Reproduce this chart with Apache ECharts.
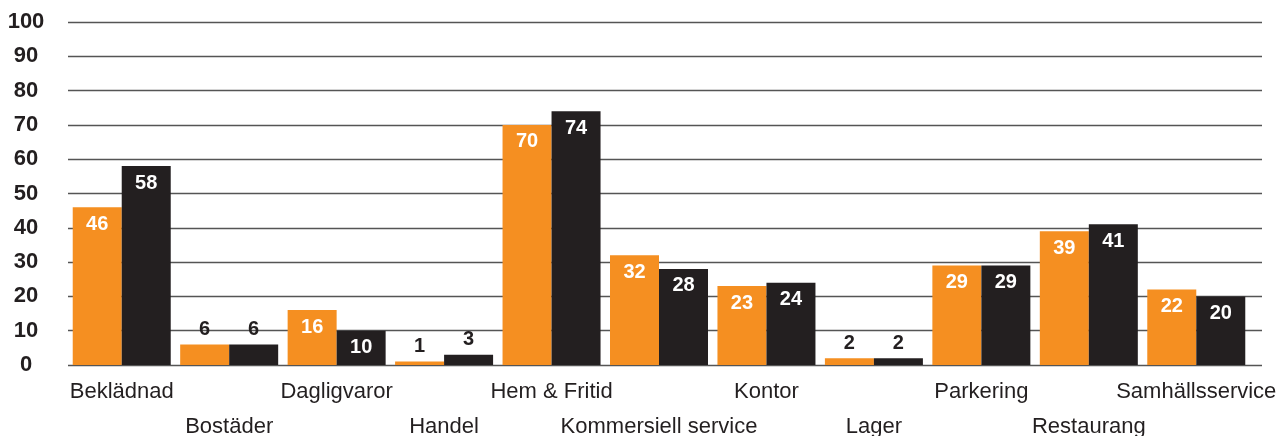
<!DOCTYPE html>
<html lang="sv">
<head>
    <meta charset="utf-8">
    <title>Andel per kategori</title>
    <style>
        html, body { margin: 0; padding: 0; background: #fff; }
        #main { width: 1276px; height: 436px; }
    </style>
</head>
<body>
<div id="main"></div>
<script src="https://cdn.jsdelivr.net/npm/echarts@6/dist/echarts.min.js"></script>
<script type="text/javascript">
    // data
    var categories = ['Beklädnad', 'Bostäder', 'Dagligvaror', 'Handel', 'Hem & Fritid',
        'Kommersiell service', 'Kontor', 'Lager', 'Parkering', 'Restaurang', 'Samhällsservice'];
    var seriesOrange = [46, 6, 16, 1, 70, 32, 23, 2, 29, 39, 22];
    var seriesBlack = [58, 6, 10, 3, 74, 28, 24, 2, 29, 41, 20];
    var yTicks = [0, 10, 20, 30, 40, 50, 60, 70, 80, 90, 100];

    var ORANGE = '#f58f21';
    var DARK = '#231f20';
    var FONT = 'Liberation Sans, Arial, sans-serif';

    // small values get their label above the bar, the rest inside
    function toData(values) {
        return values.map(function (v) {
            var small = v < 10;
            return {
                value: v,
                label: {
                    position: small ? 'top' : 'insideTop',
                    distance: small ? 5 : 7,
                    color: small ? DARK : '#fff'
                }
            };
        });
    }

    var myChart = echarts.init(document.getElementById('main'));
    var option = {
        animation: false,
        grid: [
            // grid 0 only carries the value axis and gridlines
            {left: 68, right: 14, top: 22, bottom: 71, outerBoundsMode: 'none'},
            // grid 1 holds the bars
            {left: 68, right: 26, top: 22, bottom: 71, outerBoundsMode: 'none'}
        ],
        xAxis: [
            {
                gridIndex: 0, type: 'category', data: [''],
                axisLine: {show: false}, axisTick: {show: false}, axisLabel: {show: false}
            },
            {
                gridIndex: 1, type: 'category', data: categories,
                axisLine: {show: false}, axisTick: {show: false},
                axisLabel: {
                    interval: 0,
                    margin: 9,
                    color: DARK,
                    fontFamily: FONT,
                    fontSize: 22,
                    lineHeight: 35,
                    formatter: function (v, i) {
                        return i % 2 ? '\n' + v : v;
                    }
                }
            }
        ],
        yAxis: [
            {
                gridIndex: 0, type: 'value', min: 0, max: 100, interval: 10,
                axisLine: {show: false}, axisTick: {show: false},
                axisLabel: {
                    align: 'center',
                    margin: 42,
                    color: DARK,
                    fontFamily: FONT,
                    fontWeight: 'bold',
                    fontSize: 22,
                    formatter: function (v) {
                        return yTicks.indexOf(v) >= 0 ? String(v) : '';
                    }
                },
                splitLine: {lineStyle: {color: '#555', width: 1.3}}
            },
            {
                gridIndex: 1, type: 'value', min: 0, max: 100, interval: 10,
                axisLine: {show: false}, axisTick: {show: false},
                axisLabel: {show: false}, splitLine: {show: false}
            }
        ],
        series: [
            {
                name: 'orange',
                type: 'bar',
                xAxisIndex: 1,
                yAxisIndex: 1,
                data: toData(seriesOrange),
                barWidth: 49,
                barGap: '0%',
                itemStyle: {color: ORANGE},
                label: {show: true, fontFamily: FONT, fontWeight: 'bold', fontSize: 20}
            },
            {
                name: 'black',
                type: 'bar',
                xAxisIndex: 1,
                yAxisIndex: 1,
                data: toData(seriesBlack),
                barWidth: 49,
                barGap: '0%',
                itemStyle: {color: DARK},
                label: {show: true, fontFamily: FONT, fontWeight: 'bold', fontSize: 20}
            }
        ]
    };
    myChart.setOption(option);
</script>
</body>
</html>
